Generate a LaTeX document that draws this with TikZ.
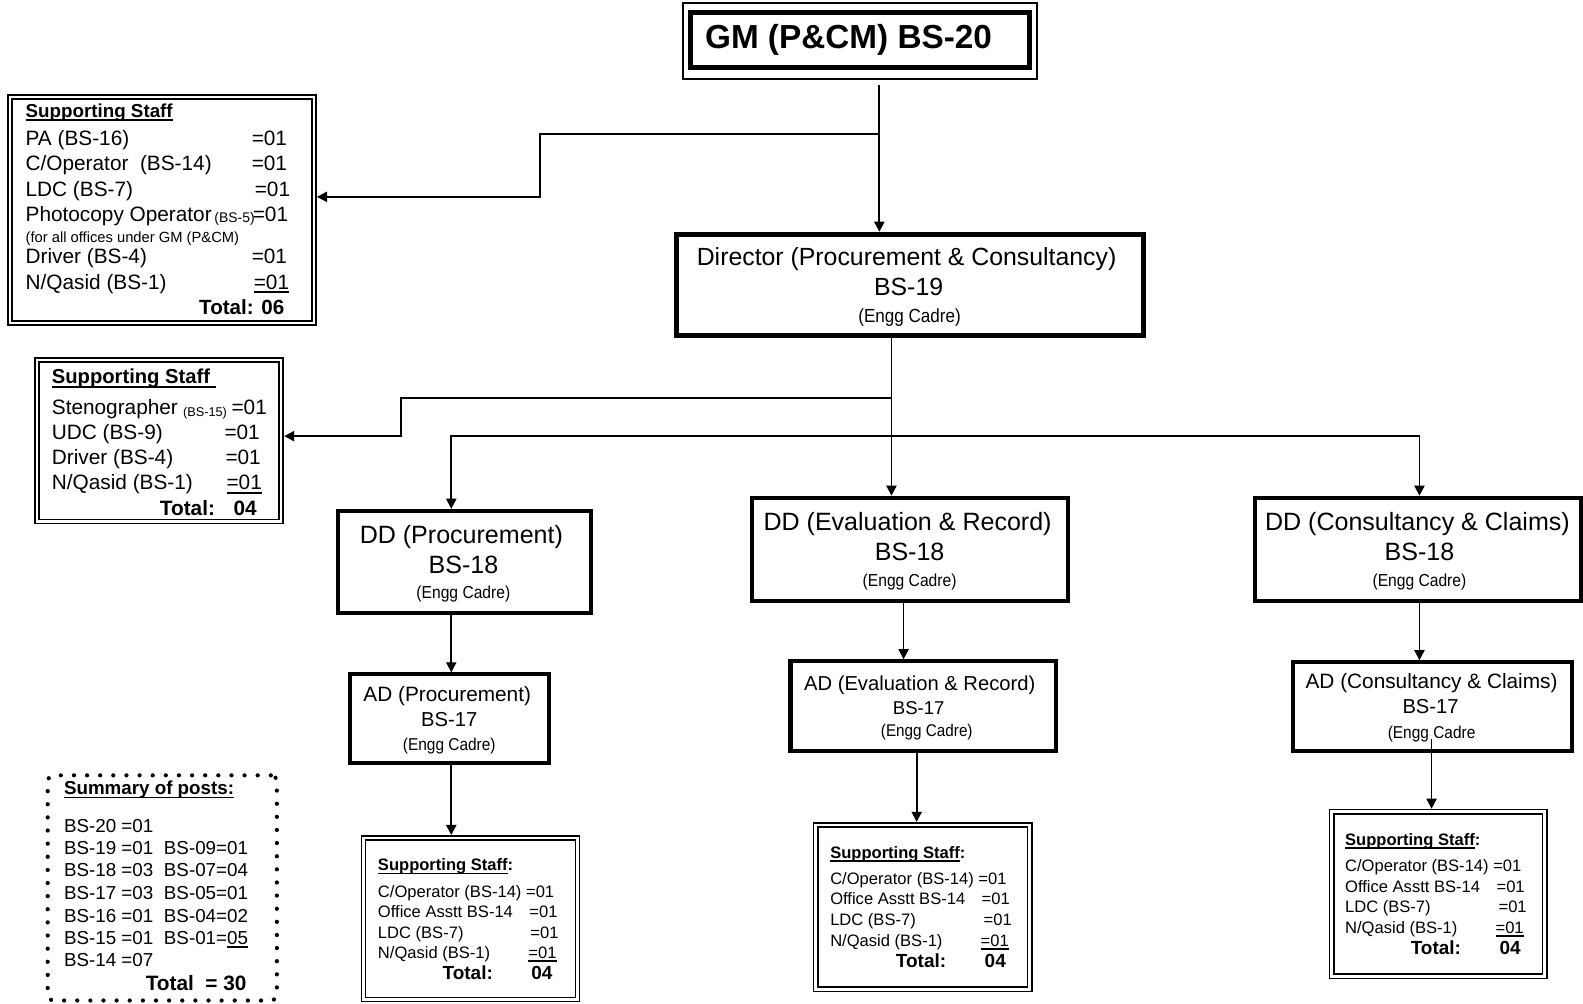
\documentclass[tikz,border=0pt]{standalone}
\usepackage{fontspec}
\setmainfont{Liberation Sans}
\newfontfamily\narrowf[FakeStretch=0.9]{Liberation Sans}
\usetikzlibrary{arrows.meta}
\newcommand\fz[1]{\fontsize{#1}{#1}\selectfont}
\newsavebox\ulbox
\newcommand\ul[1]{\sbox\ulbox{#1}\rlap{\raisebox{-1.8pt}{\rule{\wd\ulbox}{0.8pt}}}\usebox\ulbox}
\newcommand\tx[5][]{\node[txt,#1] (#2) at (#3,#4) {#5};}
\tikzset{
  txt/.style={inner sep=0pt, anchor=mid west},
  ctxt/.style={txt, anchor=mid},
  rtxt/.style={txt, anchor=mid east},
  thickbox/.style={draw, line width=2pt, inner sep=0pt},
  dblbox/.style={draw, line width=0.8pt, double, double distance=1.3pt, inner sep=0pt, outer sep=1.45pt},
  conn/.style={line width=0.9pt},
  arr/.style={conn, -{Triangle[length=5pt, width=5pt]}},
  dotbox/.style={draw, line width=2.1pt, dash pattern=on 0pt off 6.5pt, line cap=round, rounded corners=3pt, inner sep=0pt},
  bsmall/.style={font=\fz{8.2}},
  bsmallb/.style={font=\bfseries\fz{8.2}},
  btot/.style={font=\bfseries\fz{9.4}}
}
\begin{document}
\begin{tikzpicture}[x=0.5pt, y=-0.5pt]
\fill[white] (0,0) rectangle (1568,994);
\useasboundingbox (0,0) rectangle (1568,994);

% ---------------- boxes ----------------
\node[draw, line width=2.6pt, inner sep=0pt, minimum width=167.9pt, minimum height=27.2pt] (gm) at (851.9,39.6) {};
\draw[line width=0.8pt] ([shift={(-5,-7)}]gm.north west) rectangle ([shift={(5,9)}]gm.south east);
\node[thickbox, line width=2.4pt, minimum width=231.5pt, minimum height=50pt] (dir) at (901.5,282) {};
\node[thickbox, minimum width=125pt, minimum height=50.5pt] (ddP) at (460,556.5) {};
\node[thickbox, minimum width=156.5pt, minimum height=51pt] (ddE) at (901.5,544) {};
\node[thickbox, minimum width=161.5pt, minimum height=51pt] (ddC) at (1404.5,544) {};
\node[thickbox, minimum width=98.5pt, minimum height=44pt] (adP) at (445.5,712) {};
\node[thickbox, minimum width=131.5pt, minimum height=44.5pt] (adE) at (914.5,699.5) {};
\node[thickbox, minimum width=138pt, minimum height=44pt] (adC) at (1419,700) {};
\node[dblbox, minimum width=150.5pt, minimum height=112pt] (b1) at (160.5,208) {};
\node[dblbox, minimum width=121pt, minimum height=80pt] (b2) at (157.5,436.5) {};
\node[dblbox, minimum width=106pt, minimum height=80pt] (ssP) at (466,910) {};
\node[dblbox, minimum width=106pt, minimum height=81.5pt] (ssE) at (914,898.5) {};
\node[dblbox, minimum width=105.5pt, minimum height=81.5pt] (ssC) at (1424.5,885.5) {};
\node[dotbox, minimum width=113.5pt, minimum height=111.5pt] (summ) at (160.75,879.5) {};

% ---------------- texts ----------------
\tx[font=\bfseries\fz{16.5}]{gmt}{698}{43}{GM (P\&CM) BS-20}

\tx[ctxt, font=\fz{12.3}]{dir1}{898}{258}{Director (Procurement \& Consultancy)}
\tx[ctxt, font=\fz{12.3}]{dir2}{900}{287}{BS-19}
\tx[ctxt, font=\narrowf\fz{9.4}]{dir3}{901}{314}{(Engg Cadre)}

\tx[ctxt, font=\fz{12.4}]{ddP1}{457}{533}{DD (Procurement)}
\tx[ctxt, font=\fz{12.4}]{ddP2}{459}{563}{BS-18}
\tx[ctxt, font=\narrowf\fz{8.6}]{ddP3}{459}{588}{(Engg Cadre)}

\tx[ctxt, font=\fz{12.4}]{ddE1}{899}{520}{DD (Evaluation \& Record)}
\tx[ctxt, font=\fz{12.4}]{ddE2}{901}{550}{BS-18}
\tx[ctxt, font=\narrowf\fz{8.6}]{ddE3}{901}{576}{(Engg Cadre)}

\tx[ctxt, font=\fz{12.4}]{ddC1}{1404}{520}{DD (Consultancy \& Claims)}
\tx[ctxt, font=\fz{12.4}]{ddC2}{1406}{550}{BS-18}
\tx[ctxt, font=\narrowf\fz{8.6}]{ddC3}{1406}{576}{(Engg Cadre)}

\tx[ctxt, font=\fz{10.3}]{adP1}{443}{690}{AD (Procurement)}
\tx[ctxt, font=\fz{10}]{adP2}{445}{714}{BS-17}
\tx[ctxt, font=\narrowf\fz{8.5}]{adP3}{445}{738}{(Engg Cadre)}

\tx[ctxt, font=\fz{10}]{adE1}{911}{679}{AD (Evaluation \& Record)}
\tx[ctxt, font=\fz{9.2}]{adE2}{910}{702}{BS-17}
\tx[ctxt, font=\narrowf\fz{8.4}]{adE3}{918}{724}{(Engg Cadre)}

\tx[ctxt, font=\fz{10.3}]{adC1}{1418}{677}{AD (Consultancy \& Claims)}
\tx[ctxt, font=\fz{10}]{adC2}{1417}{701}{BS-17}
\tx[ctxt, font=\narrowf\fz{8.5}]{adC3}{1418}{726}{(Engg Cadre}

% supporting staff box 1
\tx[font=\bfseries\fz{9.3}]{b1h}{25}{111}{\ul{Supporting Staff}}
\tx[font=\fz{10.3}]{b1r1}{25}{139}{PA (BS-16)}
\tx[font=\fz{10.3}]{b1v1}{249}{139}{=01}
\tx[font=\fz{10.3}]{b1r2}{25}{164}{C/Operator\ \ (BS-14)}
\tx[font=\fz{10.3}]{b1v2}{249}{164}{=01}
\tx[font=\fz{10.3}]{b1r3}{25}{189}{LDC (BS-7)}
\tx[font=\fz{10.3}]{b1v3}{252}{189}{=01}
\tx[font=\fz{10.3}]{b1r4}{25}{214}{Photocopy Operator}
\tx[font=\fz{6.9}]{b1s4}{212}{215}{(BS-5)}
\tx[font=\fz{10.3}]{b1v4}{250}{214}{=01}
\tx[font=\fz{7.3}]{b1r5}{25}{235}{(for all offices under GM (P\&CM)}
\tx[font=\fz{10.3}]{b1r6}{25}{256}{Driver (BS-4)}
\tx[font=\fz{10.3}]{b1v6}{249}{256}{=01}
\tx[font=\fz{10.3}]{b1r7}{25}{281}{N/Qasid (BS-1)}
\tx[font=\fz{10.3}]{b1v7}{251}{281}{\ul{=01}}
\tx[rtxt, font=\bfseries\fz{10.2}]{b1t}{282}{306}{Total: 06}

% supporting staff box 2
\tx[font=\bfseries\fz{10}]{b2h}{51}{375}{\ul{Supporting Staff\ }}
\tx[font=\fz{10.3}]{b2r1}{51}{405}{Stenographer}
\tx[font=\fz{6.3}]{b2s1}{181}{407}{(BS-15)}
\tx[font=\fz{10.3}]{b2v1}{229}{405}{=01}
\tx[font=\fz{10.3}]{b2r2}{51}{430}{UDC (BS-9)}
\tx[font=\fz{10.3}]{b2v2}{222}{430}{=01}
\tx[font=\fz{10.3}]{b2r3}{51}{455}{Driver (BS-4)}
\tx[font=\fz{10.3}]{b2v3}{223}{455}{=01}
\tx[font=\fz{10.3}]{b2r4}{51}{480}{N/Qasid (BS-1)}
\tx[font=\fz{10.3}]{b2v4}{224}{480}{\ul{=01}}
\tx[font=\bfseries\fz{10.3}]{b2t1}{158}{505}{Total:}
\tx[font=\bfseries\fz{10.3}]{b2t2}{231}{505}{04}

% summary
\tx[font=\bfseries\fz{9.3}]{sh}{63}{782}{\ul{Summary of posts:}}
\tx[font=\fz{9.3}]{s1}{63}{819}{BS-20 =01}
\tx[font=\fz{9.3}]{s2}{63}{841}{BS-19 =01}
\tx[font=\fz{9.3}]{s2b}{162}{841}{BS-09=01}
\tx[font=\fz{9.3}]{s3}{63}{863}{BS-18 =03}
\tx[font=\fz{9.3}]{s3b}{162}{863}{BS-07=04}
\tx[font=\fz{9.3}]{s4}{63}{885.5}{BS-17 =03}
\tx[font=\fz{9.3}]{s4b}{162}{885.5}{BS-05=01}
\tx[font=\fz{9.3}]{s5}{63}{908}{BS-16 =01}
\tx[font=\fz{9.3}]{s5b}{162}{908}{BS-04=02}
\tx[font=\fz{9.3}]{s6}{63}{930}{BS-15 =01}
\tx[font=\fz{9.3}]{s6b}{162}{930}{BS-01=\ul{05}}
\tx[font=\fz{9.3}]{s7}{63}{952.5}{BS-14 =07}
\tx[font=\bfseries\fz{10.3}]{st}{144}{976}{Total\ \ = 30}

% bottom supporting staff: procurement
\tx[bsmallb]{pH}{374}{857}{\ul{Supporting Staff}:}
\tx[bsmall]{pR1}{374}{884}{C/Operator (BS-14) =01}
\tx[bsmall]{pR2}{374}{904}{Office Asstt BS-14}
\tx[bsmall]{pV2}{524}{904}{=01}
\tx[bsmall]{pR3}{374}{924}{LDC (BS-7)}
\tx[bsmall]{pV3}{525}{924}{=01}
\tx[bsmall]{pR4}{374}{944}{N/Qasid (BS-1)}
\tx[bsmall]{pV4}{523}{944}{\ul{=01}}
\tx[btot]{pT1}{438}{965}{Total:}
\tx[btot]{pT2}{526}{965}{04}

% bottom supporting staff: evaluation
\tx[bsmallb]{eH}{822}{845}{\ul{Supporting Staff}:}
\tx[bsmall]{eR1}{822}{871}{C/Operator (BS-14) =01}
\tx[bsmall]{eR2}{822}{891}{Office Asstt BS-14}
\tx[bsmall]{eV2}{972}{891}{=01}
\tx[bsmall]{eR3}{822}{911}{LDC (BS-7)}
\tx[bsmall]{eV3}{974}{911}{=01}
\tx[bsmall]{eR4}{822}{932}{N/Qasid (BS-1)}
\tx[bsmall]{eV4}{971}{932}{\ul{=01}}
\tx[btot]{eT1}{887}{953}{Total:}
\tx[btot]{eT2}{975}{953}{04}

% bottom supporting staff: consultancy
\tx[bsmallb]{cH}{1332}{832}{\ul{Supporting Staff}:}
\tx[bsmall]{cR1}{1332}{858}{C/Operator (BS-14) =01}
\tx[bsmall]{cR2}{1332}{879}{Office Asstt BS-14}
\tx[bsmall]{cV2}{1482}{879}{=01}
\tx[bsmall]{cR3}{1332}{899}{LDC (BS-7)}
\tx[bsmall]{cV3}{1484}{899}{=01}
\tx[bsmall]{cR4}{1332}{919}{N/Qasid (BS-1)}
\tx[bsmall]{cV4}{1481}{919}{\ul{=01}}
\tx[btot]{cT1}{1397}{940}{Total:}
\tx[btot]{cT2}{1485}{940}{04}

% ---------------- connectors ----------------
\coordinate (gmc) at (871,84);
\draw[arr] (gmc) -- (gmc |- dir.north);
\coordinate (j1) at (871,133);
\coordinate (k1) at (535,195);
\draw[arr] (j1) -- (j1 -| k1) -- (k1) -- (k1 -| b1.east);

\coordinate (dx) at (883,394);
\draw[arr] (dx |- dir.south) -- (dx |- ddE.north);
\coordinate (k2) at (397,432);
\draw[arr] (dx) -- (dx -| k2) -- (k2) -- (k2 -| b2.east);

\coordinate (h1) at (447,432);
\coordinate (h2) at (1406,432);
\draw[arr] (h1 -| dx) -- (h1) -- (h1 |- ddP.north);
\draw[arr] (h2 -| dx) -- (h2) -- (h2 |- ddC.north);

\draw[arr] (h1 |- ddP.south) -- (h1 |- adP.north);
\coordinate (e1) at (895,600);
\draw[arr] (e1 |- ddE.south) -- (e1 |- adE.north);
\draw[arr] (h2 |- ddC.south) -- (h2 |- adC.north);

\draw[arr] (h1 |- adP.south) -- (h1 |- ssP.north);
\coordinate (e2) at (908,760);
\draw[arr] (e2 |- adE.south) -- (e2 |- ssE.north);
\coordinate (c3) at (1418,732);
\draw[arr] (c3) -- (c3 |- ssC.north);
\end{tikzpicture}
\end{document}
